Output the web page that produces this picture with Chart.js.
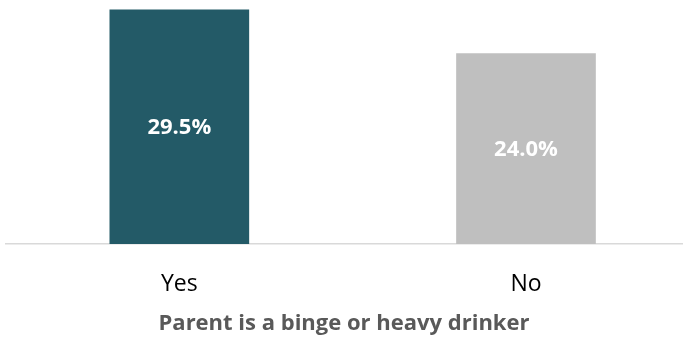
<!DOCTYPE html>
<html>
<head>
<meta charset="utf-8">
<script src="https://cdn.jsdelivr.net/npm/chart.js@4.4.1/dist/chart.umd.min.js"></script>
<style>
  html, body { margin: 0; padding: 0; background: #fff; overflow: hidden; }
  #wrap { width: 689px; height: 339px; }
</style>
</head>
<body>
<div id="wrap"><canvas id="chart"></canvas></div>
<script>
const categories = ["Yes", "No"];
const values = [29.5, 24.0];
const barColors = ["#235A67", "#BFBFBF"];
const axisTitle = "Parent is a binge or heavy drinker";

const FONT = "'Open Sans', sans-serif";

// white value text in the middle of each bar
const barLabels = {
  id: "barLabels",
  afterDatasetsDraw(chart) {
    const ctx = chart.ctx;
    const meta = chart.getDatasetMeta(0);
    ctx.save();
    ctx.font = "bold 22px " + FONT;
    ctx.fillStyle = "#ffffff";
    ctx.textAlign = "center";
    ctx.textBaseline = "middle";
    meta.data.forEach((bar, i) => {
      const mid = (bar.y + bar.base) / 2;
      ctx.fillText(values[i].toFixed(1) + "%", bar.x, mid + 1);
    });
    ctx.restore();
  }
};

new Chart(document.getElementById("chart"), {
  type: "bar",
  data: {
    datasets: [{
      data: values.map((v, i) => ({ x: i, y: v })),
      backgroundColor: barColors,
      barThickness: 139,
      borderWidth: 0
    }]
  },
  options: {
    responsive: true,
    maintainAspectRatio: false,
    animation: false,
    layout: { padding: { top: 2, left: 6, right: 7, bottom: 4 } },
    plugins: { legend: { display: false }, tooltip: { enabled: false } },
    scales: {
      x: {
        type: "linear",
        offset: false,
        min: -0.5,
        max: 1.45,
        afterBuildTicks: (axis) => {
          axis.ticks = categories.map((c, i) => ({ value: i }));
        },
        grid: { display: false, drawTicks: false, offset: false },
        border: { display: true, color: "#D9D9D9", width: 1.5 },
        ticks: {
          color: "#000000",
          padding: 29,
          maxRotation: 0,
          autoSkip: false,
          font: { family: FONT, size: 23, lineHeight: 1 },
          callback: (val) => categories[val] ?? ""
        },
        title: {
          display: true,
          text: axisTitle,
          color: "#595959",
          padding: { top: -12, bottom: 0 },
          font: { family: FONT, size: 22, weight: "bold", lineHeight: 1 }
        }
      },
      y: {
        display: false,
        min: 0,
        max: 30.5
      }
    }
  },
  plugins: [barLabels]
});
</script>
</body>
</html>
